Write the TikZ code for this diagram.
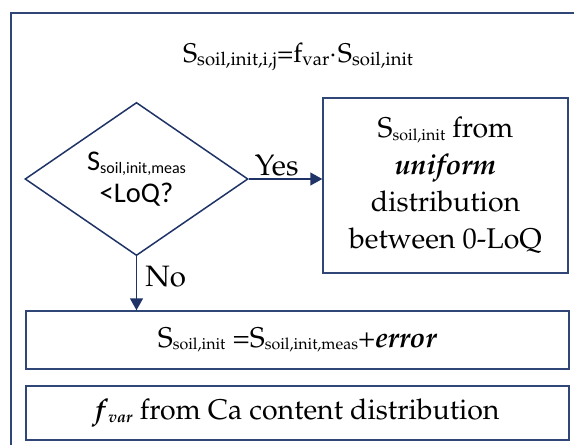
\documentclass[tikz,border=0pt]{standalone}
\usepackage{fontspec}
\newfontfamily\calib{Carlito}
\usepackage[T1]{fontenc}
\usepackage{mathpazo}
\usepackage{tikz}
\usetikzlibrary{shapes,arrows.meta,positioning,calc}
\definecolor{navy}{HTML}{1F3366}
\definecolor{frameblue}{HTML}{2F4676}
\newcommand{\sbs}[1]{\raisebox{-0.1em}{\fontsize{16}{16}\selectfont #1}}
\newcommand{\sbl}[1]{\raisebox{-0.1em}{\fontsize{18.5}{18.5}\selectfont #1}}

\begin{document}
\begin{tikzpicture}[
			x=1pt, y=-1pt,
			box/.style={rectangle, draw=frameblue, line width=1.5pt, inner sep=0pt, align=center, font=\fontsize{28.5}{37}\selectfont},
			decision/.style={diamond, draw=navy, line width=1.5pt, inner sep=0pt, minimum width=223pt, minimum height=150pt, align=center, font=\calib\fontsize{28.5}{32}\selectfont},
			formula/.style={inner sep=0pt, font=\fontsize{27}{30}\selectfont},
			arrow/.style={-{Triangle[length=12pt,width=13pt]}, draw=navy, line width=1.5pt},
			tag/.style={inner sep=2pt, font=\fontsize{29.5}{32}\selectfont}
			]
			
			\clip (0,0) rectangle (574,445);
			
			% Outer frame
			\draw[frameblue, line width=1.6pt] (11,13) rectangle (600,470);
			
			% Formula
			\node[formula] (eq) at (298,57) {S\sbl{soil,init,i,j}=f\sbl{var}$\cdot$S\sbl{soil,init}};
			
			% Decision
			\node[decision] (check) at (136.5,179) {S\sbs{soil,init,meas}\\<LoQ?};
			
			% Boxes
			\node[box, minimum width=245pt, minimum height=175pt] (uniform) at (445.5,185.5) {S\sbs{soil,init} from\\\textbf{\textit{uniform}}\\distribution\\between 0-LoQ};
			\node[box, minimum width=543pt, minimum height=58pt] (error) at (297.5,340) {S\sbs{soil,init} =S\sbs{soil,init,meas}+\textbf{\textit{error}}};
			\node[box, minimum width=543pt, minimum height=54pt] (fvar) at (297.5,413) {\textbf{\textit{f}}\sbs{\textbf{\textit{var}}} from Ca content distribution};
			
			% Connections
			\draw[arrow] (check.east) -- (check.east -| uniform.west) node[tag, above, pos=0.38] {Yes};
			\draw[arrow] (check.south) -- (check.south |- error.north) node[tag, right, pos=0.38, xshift=6pt] {No};
			
		\end{tikzpicture}
\end{document}
